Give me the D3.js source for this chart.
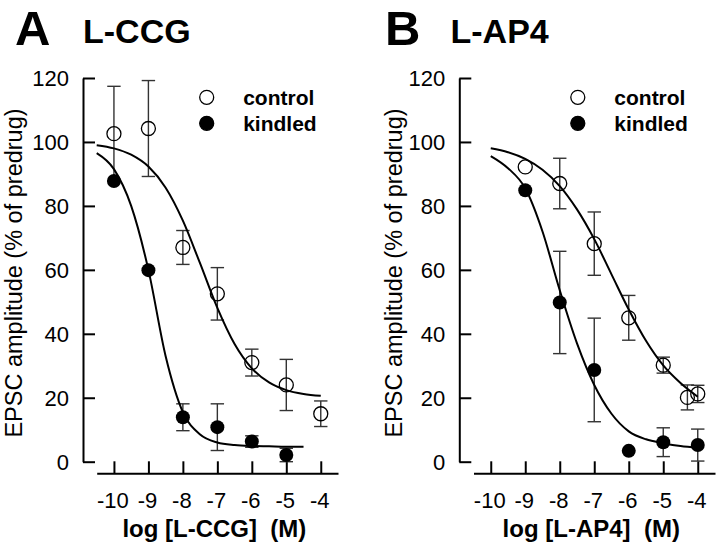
<!DOCTYPE html>
<html>
<head>
<meta charset="utf-8">
<script src="https://cdn.jsdelivr.net/npm/d3@7"></script>
<style>
  html, body { margin: 0; padding: 0; background: #fff; }
  svg { display: block; font-family: "Liberation Sans", Arial, sans-serif; }
</style>
</head>
<body>
<svg id="chart" width="720" height="552"></svg>
<script>
// ---------------- data ----------------
const xTicks = [-10, -9, -8, -7, -6, -5, -4];
const yTicks = [0, 20, 40, 60, 80, 100, 120];
const seriesNames = ["control", "kindled"];

// Panel A: L-CCG
const ccgControlX   = [-10, -9, -8, -7, -6, -5, -4];
const ccgControlY   = [102.6, 104.2, 67, 52.5, 31, 24, 15];
const ccgControlErr = [14.8, 15, 5.3, 8.2, 4.2, 8, 4];
const ccgKindledX   = [-10, -9, -8, -7, -6, -5];
const ccgKindledY   = [87.8, 59.9, 13.9, 10.8, 6.3, 2.1];
const ccgKindledErr = [0, 0, 4.2, 7.3, 1.8, 2.1];
const ccgControlFitX = [-10.5, -10, -9.5, -9, -8.5, -8, -7.5, -7, -6.5, -6, -5.5, -5, -4.5, -4];
const ccgControlFitY = [99.0, 98.0, 96.0, 92.3, 85.7, 75.4, 62.0, 48.1, 36.8, 29.2, 24.8, 22.4, 21.2, 20.6];
const ccgKindledFitX = [-10.5, -10, -9.5, -9, -8.5, -8, -7.5, -7, -6.5, -6, -5.5, -5, -4.5];
const ccgKindledFitY = [96.5, 91.5, 80, 60, 33, 15.5, 8.5, 6.0, 5.2, 4.9, 4.8, 4.7, 4.7];

// Panel B: L-AP4
const ap4ControlX   = [-9, -8, -7, -6, -5, -4.3, -4];
const ap4ControlY   = [92.2, 87, 68.2, 45, 30.2, 20.1, 21.2];
const ap4ControlErr = [0, 7.9, 9.9, 7, 2.5, 3.9, 2.7];
const ap4KindledX   = [-9, -8, -7, -6, -5, -4];
const ap4KindledY   = [84.9, 49.8, 28.7, 3.4, 6.1, 5.2];
const ap4KindledErr = [0, 16, 16.2, 0, 4.5, 5];
const ap4ControlFitX = [-10, -9.5, -9, -8.5, -8, -7.5, -7, -6.5, -6, -5.5, -5, -4.5, -4];
const ap4ControlFitY = [98.0, 96.8, 94.7, 91.3, 86.2, 78.9, 69.6, 58.6, 47.6, 37.8, 30.1, 24.6, 20.3];
const ap4KindledFitX = [-10, -9.5, -9, -8.5, -8, -7.5, -7, -6.5, -6, -5.5, -5, -4.5, -4];
const ap4KindledFitY = [95.6, 91.8, 85.5, 72, 53.6, 37, 24, 15, 9.5, 7, 5.8, 4.9, 4.4];

// ---------------- drawing ----------------
const svg = d3.select("#chart");
const zip = (xs, ys, es) => xs.map((x, i) => ({ x, y: ys[i], e: es ? es[i] : 0 }));

const panels = [
  {
    letter: "A", title: "L-CCG", xLabel: "log [L-CCG]  (M)",
    yAxisX: 83, xRange: [96.7, 338], letterX: 15, titleX: 83, yTitleX: 22,
    legendX: 206.7,
    control: zip(ccgControlX, ccgControlY, ccgControlErr),
    kindled: zip(ccgKindledX, ccgKindledY, ccgKindledErr),
    controlFit: zip(ccgControlFitX, ccgControlFitY),
    kindledFit: zip(ccgKindledFitX, ccgKindledFitY)
  },
  {
    letter: "B", title: "L-AP4", xLabel: "log [L-AP4]  (M)",
    yAxisX: 459.3, xRange: [473.5, 715], letterX: 385, titleX: 450.5, yTitleX: 402,
    legendX: 577.8,
    control: zip(ap4ControlX, ap4ControlY, ap4ControlErr),
    kindled: zip(ap4KindledX, ap4KindledY, ap4KindledErr),
    controlFit: zip(ap4ControlFitX, ap4ControlFitY),
    kindledFit: zip(ap4KindledFitX, ap4KindledFitY)
  }
];

const yTop = 78, yBottom = 461.7, xAxisY = 473.3, tickLen = 12;

panels.forEach(p => {
  const g = svg.append("g");
  const x = d3.scaleLinear().domain([-10.5, -3.5]).range(p.xRange);
  const y = d3.scaleLinear().domain([0, 120]).range([yBottom, yTop]);

  // Panel letter and title
  g.append("text").attr("x", p.letterX).attr("y", 45)
    .attr("font-size", 49).attr("font-weight", "bold").text(p.letter);
  g.append("text").attr("x", p.titleX).attr("y", 43.3)
    .attr("font-size", 34).attr("font-weight", "bold").text(p.title);

  // Y axis (ticks pointing inward)
  const yAxis = d3.axisRight(y).tickValues(yTicks).tickSize(tickLen).tickSizeOuter(0).tickFormat("");
  const yg = g.append("g").attr("transform", `translate(${p.yAxisX},0)`).call(yAxis);
  yg.select(".domain").attr("stroke", "#000").attr("stroke-width", 2);
  yg.selectAll(".tick line").attr("stroke", "#000").attr("stroke-width", 2);
  g.selectAll(".ylab").data(yTicks).enter().append("text")
    .attr("x", p.yAxisX - 14).attr("y", d => y(d)).attr("dy", "0.36em")
    .attr("text-anchor", "end").attr("font-size", 22).text(d => d);

  // X axis (offset, ticks pointing up)
  const xAxis = d3.axisTop(x).tickValues(xTicks).tickSize(tickLen).tickSizeOuter(0).tickFormat("");
  const xg = g.append("g").attr("transform", `translate(0,${xAxisY})`).call(xAxis);
  xg.select(".domain").attr("stroke", "#000").attr("stroke-width", 2);
  xg.selectAll(".tick line").attr("stroke", "#000").attr("stroke-width", 2);
  g.selectAll(".xlab").data(xTicks).enter().append("text")
    .attr("x", d => x(d) - 1).attr("y", 508.3)
    .attr("text-anchor", "middle").attr("font-size", 22).text(d => d);

  // Axis titles
  g.append("text").attr("x", (p.xRange[0] + p.xRange[1]) / 2 - 3).attr("y", 537)
    .attr("text-anchor", "middle").attr("font-size", 24).attr("font-weight", "bold")
    .style("white-space", "pre").text(p.xLabel);
  g.append("text")
    .attr("transform", `translate(${p.yTitleX},273) rotate(-90)`)
    .attr("text-anchor", "middle").attr("font-size", 23.5).text("EPSC amplitude (% of predrug)");

  // Error bars
  const capW = 6.7;
  [p.control, p.kindled].forEach(series => {
    series.filter(d => d.e > 0).forEach(d => {
      const eg = g.append("g").attr("stroke", "#333").attr("stroke-width", 1.4);
      eg.append("line").attr("x1", x(d.x)).attr("x2", x(d.x)).attr("y1", y(d.y + d.e)).attr("y2", y(d.y - d.e));
      eg.append("line").attr("x1", x(d.x) - capW).attr("x2", x(d.x) + capW).attr("y1", y(d.y + d.e)).attr("y2", y(d.y + d.e));
      eg.append("line").attr("x1", x(d.x) - capW).attr("x2", x(d.x) + capW).attr("y1", y(d.y - d.e)).attr("y2", y(d.y - d.e));
    });
  });

  // Fit curves
  const line = d3.line().x(d => x(d.x)).y(d => y(d.y)).curve(d3.curveMonotoneX);
  [p.controlFit, p.kindledFit].forEach(fit => {
    g.append("path").datum(fit).attr("d", line)
      .attr("fill", "none").attr("stroke", "#000").attr("stroke-width", 2);
  });

  // Markers
  g.selectAll(".ctl").data(p.control).enter().append("circle")
    .attr("cx", d => x(d.x)).attr("cy", d => y(d.y)).attr("r", 7)
    .attr("fill", "none").attr("stroke", "#000").attr("stroke-width", 1.3);
  g.selectAll(".kin").data(p.kindled).enter().append("circle")
    .attr("cx", d => x(d.x)).attr("cy", d => y(d.y)).attr("r", 7)
    .attr("fill", "#000");

  // Legend
  const legY = [97.3, 123.3];
  seriesNames.forEach((name, i) => {
    g.append("circle").attr("cx", p.legendX).attr("cy", legY[i]).attr("r", 7)
      .attr("fill", i === 0 ? "none" : "#000").attr("stroke", "#000").attr("stroke-width", 1.3);
    g.append("text").attr("x", p.legendX + 36.5).attr("y", legY[i]).attr("dy", "0.36em")
      .attr("font-size", 21).attr("font-weight", "bold").text(name);
  });
});
</script>
</body>
</html>
